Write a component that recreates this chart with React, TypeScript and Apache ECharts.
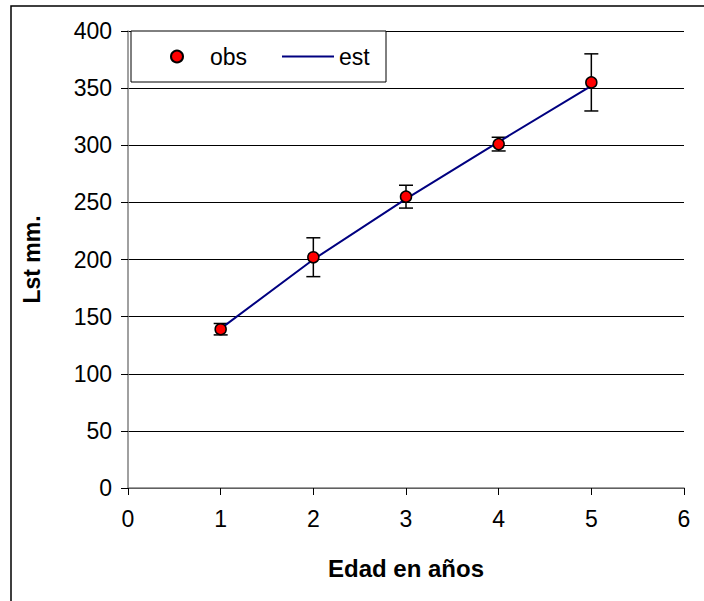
import React, { useEffect, useRef } from "react";
import * as echarts from "echarts";

const ages = [1, 2, 3, 4, 5];
const obsValues = [139, 202, 255, 301, 355];
const obsErrors = [5, 17, 10, 6, 25];
const estValues = [139.5, 200, 253, 303, 352];

const FONT = "'Liberation Sans', Arial, sans-serif";

export default function App() {
  const ref = useRef<HTMLDivElement>(null);
  useEffect(() => {
    if (!ref.current) return;
    const chart = echarts.init(ref.current, null, { renderer: "svg" });
    const obsData = ages.map((a, i) => [a, obsValues[i]]);
    const estData = ages.map((a, i) => [a, estValues[i]]);
    const errData = ages.map((a, i) => [a, obsValues[i] - obsErrors[i], obsValues[i] + obsErrors[i]]);
    const legendText = { fontFamily: FONT, fontSize: 23, color: "#000" };
    chart.setOption({
      animation: false,
      backgroundColor: "#ffffff",
      textStyle: { fontFamily: FONT },
      graphic: [
        {
          type: "rect",
          shape: { x: 11, y: 6, width: 700, height: 600 },
          style: { fill: "none", stroke: "#000", lineWidth: 1.5 },
          silent: true,
          z: -10,
        },
        {
          type: "rect",
          shape: { x: 131, y: 31, width: 255, height: 51 },
          style: { fill: "#fff", stroke: "#000", lineWidth: 1 },
          silent: true,
          z: 8,
        },
      ],
      grid: { left: 128, right: 20, top: 31, bottom: 113 },
      legend: [
        {
          left: 170,
          top: 45,
          z: 20,
          padding: 0,
          itemWidth: 12,
          itemHeight: 12,
          textStyle: { ...legendText, padding: [0, 0, 0, 22] },
          data: [{ name: "obs", icon: "circle" }],
        },
        {
          left: 282,
          top: 45,
          z: 20,
          padding: 0,
          itemWidth: 52,
          itemHeight: 11,
          textStyle: legendText,
          data: [{ name: "est", icon: "path://M0,0 L52,0 L52,2 L0,2 Z" }],
        },
      ],
      xAxis: {
        type: "value",
        min: 0,
        max: 6,
        interval: 1,
        name: "Edad en años",
        nameLocation: "middle",
        nameGap: 68,
        nameTextStyle: { fontFamily: FONT, fontSize: 24, fontWeight: "bold", color: "#000" },
        axisLine: { lineStyle: { color: "#808080", width: 1.5 } },
        axisTick: { show: true, length: 7, inside: false, lineStyle: { color: "#000" } },
        axisLabel: { fontFamily: FONT, fontSize: 23, color: "#000", margin: 19 },
        splitLine: { show: false },
      },
      yAxis: {
        type: "value",
        min: 0,
        max: 400,
        interval: 50,
        name: "Lst mm.",
        nameLocation: "middle",
        nameRotate: 90,
        nameGap: 85,
        nameTextStyle: { fontFamily: FONT, fontSize: 23, fontWeight: "bold", color: "#000" },
        axisLine: { show: true, lineStyle: { color: "#808080", width: 1.5 } },
        axisTick: { show: true, length: 7, inside: false, lineStyle: { color: "#000" } },
        axisLabel: { fontFamily: FONT, fontSize: 23, color: "#000", margin: 16 },
        splitLine: { show: true, lineStyle: { color: "#000", width: 1 } },
      },
      series: [
        {
          name: "errors",
          type: "custom",
          data: errData,
          z: 3,
          renderItem: (params: any, api: any) => {
            const x = api.value(0);
            const lo = api.coord([x, api.value(1)]);
            const hi = api.coord([x, api.value(2)]);
            const half = 7;
            const st = { stroke: "#000", lineWidth: 1.5 };
            return {
              type: "group",
              children: [
                { type: "line", shape: { x1: lo[0], y1: lo[1], x2: hi[0], y2: hi[1] }, style: st },
                { type: "line", shape: { x1: lo[0] - half, y1: lo[1], x2: lo[0] + half, y2: lo[1] }, style: st },
                { type: "line", shape: { x1: hi[0] - half, y1: hi[1], x2: hi[0] + half, y2: hi[1] }, style: st },
              ],
            };
          },
        },
        {
          name: "est",
          type: "line",
          data: estData,
          symbol: "none",
          z: 4,
          lineStyle: { color: "#000080", width: 2 },
          itemStyle: { color: "#000080" },
        },
        {
          name: "obs",
          type: "scatter",
          data: obsData,
          symbol: "circle",
          symbolSize: 11,
          z: 5,
          itemStyle: { color: "#ff0000", borderColor: "#000", borderWidth: 1.5, opacity: 1 },
        },
      ],
    });
    return () => chart.dispose();
  }, []);
  return (
    <div
      ref={ref}
      style={{ position: "fixed", left: 0, top: 0, width: 704, height: 601 }}
    />
  );
}
